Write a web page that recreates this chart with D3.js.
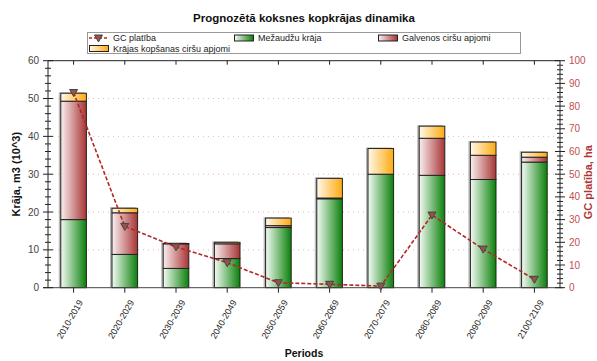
<!DOCTYPE html>
<html>
<head>
<meta charset="utf-8">
<script src="https://cdn.jsdelivr.net/npm/d3@7"></script>
<style>
  html, body { margin: 0; padding: 0; background: #fff; }
  svg { display: block; font-family: "Liberation Sans", Arial, sans-serif; }
</style>
</head>
<body>
<svg id="chart" width="597" height="361"></svg>
<script>
// Forecast of total timber harvest by decade
const periods = ["2010-2019","2020-2029","2030-2039","2040-2049","2050-2059",
                 "2060-2069","2070-2079","2080-2089","2090-2099","2100-2109"];
// Stacked volumes, thousand m3
const mezauduKraja    = [18.0, 8.8, 5.1, 7.7, 15.9, 23.5, 30.0, 29.7, 28.6, 33.2];
const galvenosCirsi   = [31.3, 11.0, 6.5, 3.9, 0.5, 0.2, 0.0, 9.8, 6.4, 1.3];
const kopsanasCirsi   = [2.1, 1.2, 0.1, 0.4, 2.0, 5.2, 6.8, 3.2, 3.5, 1.3];
// Clear-cut area, ha (right axis)
const gcPlatiba       = [86, 27, 18, 11, 2.2, 1.5, 0.7, 32, 17, 3.7];

const leftTicks  = [0, 10, 20, 30, 40, 50, 60];
const rightTicks = [0, 10, 20, 30, 40, 50, 60, 70, 80, 90, 100];

const seriesNames = ["Mežaudžu krāja", "Galvenos ciršu apjomi", "Krājas kopšanas ciršu apjomi"];
const seriesColors = [
  { light: "#f4fbf4", dark: "#0a800a" },
  { light: "#faf0f0", dark: "#a83434" },
  { light: "#fff8ea", dark: "#ffaa10" }
];

const svg = d3.select("#chart");
const plot = { left: 48, right: 560, top: 60.7, bottom: 287.7 };

const x = d3.scaleBand().domain(periods).range([plot.left, plot.right])
  .paddingInner(0.5).paddingOuter(0.25);
const y = d3.scaleLinear().domain([0, 60]).range([plot.bottom, plot.top]);
const y2 = d3.scaleLinear().domain([0, 100]).range([plot.bottom, plot.top]);

// Horizontal gradients for the bar segments
const defs = svg.append("defs");
seriesColors.forEach((c, i) => {
  const g = defs.append("linearGradient").attr("id", "grad" + i)
    .attr("x1", "0%").attr("x2", "100%").attr("y1", "0%").attr("y2", "0%");
  g.append("stop").attr("offset", "0%").attr("stop-color", c.light);
  g.append("stop").attr("offset", "100%").attr("stop-color", c.dark);
});

// Title
svg.append("text").attr("x", 304).attr("y", 22).attr("text-anchor", "middle")
  .attr("font-size", 11.5).attr("font-weight", "bold").attr("fill", "#111")
  .text("Prognozētā koksnes kopkrājas dinamika");

// Dotted grid lines
svg.append("g").selectAll("line").data(leftTicks.filter(t => t > 0 && t < 60)).join("line")
  .attr("x1", plot.left).attr("x2", plot.right)
  .attr("y1", d => y(d)).attr("y2", d => y(d))
  .attr("stroke", "#eeb4b4").attr("stroke-width", 1).attr("stroke-dasharray", "1,4");

// Stack
const table = periods.map((p, i) => ({
  period: p, s0: mezauduKraja[i], s1: galvenosCirsi[i], s2: kopsanasCirsi[i]
}));
const stack = d3.stack().keys(["s0", "s1", "s2"])(table);
const totals = table.map(d => d.s0 + d.s1 + d.s2);

// Soft shadow behind each bar
svg.append("g").selectAll("rect").data(table).join("rect")
  .attr("x", d => x(d.period) - 2)
  .attr("y", (d, i) => y(totals[i]) - 1)
  .attr("width", x.bandwidth())
  .attr("height", (d, i) => y(0) - y(totals[i]) + 1)
  .attr("fill", "#b8b8b8");

stack.forEach((layer, k) => {
  svg.append("g").selectAll("rect").data(layer).join("rect")
    .attr("x", d => x(d.data.period))
    .attr("y", d => y(d[1]))
    .attr("width", x.bandwidth())
    .attr("height", d => Math.max(0, y(d[0]) - y(d[1])))
    .attr("fill", `url(#grad${k})`)
    .attr("stroke", "#222").attr("stroke-width", 1);
});

// Frame: top and bottom lines
svg.append("line").attr("x1", plot.left).attr("x2", plot.right)
  .attr("y1", plot.top).attr("y2", plot.top).attr("stroke", "#222");
svg.append("line").attr("x1", plot.left - 5).attr("x2", plot.right + 3)
  .attr("y1", plot.bottom).attr("y2", plot.bottom).attr("stroke", "#444");

// Category ticks top (inward) and bottom (outward)
svg.append("g").selectAll("line").data(periods).join("line")
  .attr("x1", d => x(d) + x.bandwidth() / 2).attr("x2", d => x(d) + x.bandwidth() / 2)
  .attr("y1", plot.top).attr("y2", plot.top + 4).attr("stroke", "#222");

const xAxis = svg.append("g").attr("transform", `translate(0,${plot.bottom})`)
  .call(d3.axisBottom(x).tickSize(5).tickSizeOuter(0));
xAxis.select(".domain").remove();
xAxis.selectAll(".tick line").attr("stroke", "#222");
xAxis.selectAll(".tick text")
  .attr("font-size", 9).attr("fill", "#222")
  .attr("text-anchor", "end")
  .attr("transform", "translate(7,13) rotate(-60)")
  .attr("dy", "0.35em").attr("y", 0).attr("x", 0);

// Left axis with minor ticks crossing the line
const leftAxis = svg.append("g").attr("transform", `translate(${plot.left},0)`);
leftAxis.append("line").attr("y1", plot.top).attr("y2", plot.bottom).attr("stroke", "#222");
leftAxis.selectAll(".minor").data(d3.range(0, 61, 2)).join("line")
  .attr("x1", d => d % 10 === 0 ? -5 : -3).attr("x2", d => d % 10 === 0 ? 5 : 3)
  .attr("y1", d => y(d)).attr("y2", d => y(d)).attr("stroke", "#222");
leftAxis.selectAll("text").data(leftTicks).join("text")
  .attr("x", -9).attr("y", d => y(d)).attr("dy", "0.35em")
  .attr("text-anchor", "end").attr("font-size", 10).attr("fill", "#444")
  .text(d => d);

// Right axis
const rightAxis = svg.append("g").attr("transform", `translate(${plot.right},0)`);
rightAxis.append("line").attr("y1", plot.top).attr("y2", plot.bottom).attr("stroke", "#222");
rightAxis.selectAll(".minor").data(d3.range(0, 101, 2)).join("line")
  .attr("x1", d => d % 10 === 0 ? -5 : -3).attr("x2", d => d % 10 === 0 ? 5 : 3)
  .attr("y1", d => y2(d)).attr("y2", d => y2(d)).attr("stroke", "#222");
rightAxis.selectAll("text").data(rightTicks).join("text")
  .attr("x", 9).attr("y", d => y2(d)).attr("dy", "0.35em")
  .attr("text-anchor", "start").attr("font-size", 10).attr("fill", "#c05050")
  .text(d => d);

// Axis titles
svg.append("text")
  .attr("transform", `translate(20,${(plot.top + plot.bottom) / 2}) rotate(-90)`)
  .attr("text-anchor", "middle").attr("font-size", 11).attr("font-weight", "bold")
  .attr("fill", "#111").text("Krāja, m3 (10^3)");
svg.append("text")
  .attr("transform", `translate(592,${(plot.top + plot.bottom) / 2 + 8}) rotate(-90)`)
  .attr("text-anchor", "middle").attr("font-size", 11).attr("font-weight", "bold")
  .attr("fill", "#b03434").text("GC platība, ha");
svg.append("text").attr("x", 304).attr("y", 357).attr("text-anchor", "middle")
  .attr("font-size", 10.5).attr("font-weight", "bold").attr("fill", "#111")
  .text("Periods");

// GC area line with triangle markers
const cx = (d, i) => x(periods[i]) + x.bandwidth() / 2;
svg.append("path")
  .attr("d", d3.line().x(cx).y(d => y2(d))(gcPlatiba))
  .attr("fill", "none").attr("stroke", "#b02828").attr("stroke-width", 1.6)
  .attr("stroke-dasharray", "4,2");
const tri = "M-4,-3L4,-3L0,4Z";
svg.append("g").selectAll("path").data(gcPlatiba).join("path")
  .attr("transform", (d, i) => `translate(${cx(d, i)},${y2(d)})`)
  .attr("d", tri).attr("fill", "#9a5248").attr("stroke", "#444").attr("stroke-width", 1);

// Legend
const legend = svg.append("g");
legend.append("rect").attr("x", 87.5).attr("y", 32.5).attr("width", 433).attr("height", 21)
  .attr("fill", "#fff").attr("stroke", "#999");
const legendItems = [
  { name: "GC platība", type: "line", x: 89, y: 38 },
  { name: seriesNames[0], type: 0, x: 234, y: 38 },
  { name: seriesNames[1], type: 1, x: 378, y: 38 },
  { name: seriesNames[2], type: 2, x: 89, y: 48.5 }
];
legendItems.forEach(it => {
  const g = legend.append("g");
  if (it.type === "line") {
    g.append("line").attr("x1", it.x).attr("x2", it.x + 19).attr("y1", it.y).attr("y2", it.y)
      .attr("stroke", "#c02020").attr("stroke-width", 1.6).attr("stroke-dasharray", "3,2");
    g.append("path").attr("transform", `translate(${it.x + 9.5},${it.y})`)
      .attr("d", tri).attr("fill", "#9a5248").attr("stroke", "#444");
  } else {
    g.append("rect").attr("x", it.x + 0.5).attr("y", it.y - 3).attr("width", 19).attr("height", 6)
      .attr("fill", `url(#grad${it.type})`).attr("stroke", "#222");
  }
  g.append("text").attr("x", it.x + 24).attr("y", it.y).attr("dy", "0.35em")
    .attr("font-size", 9).attr("fill", "#222").text(it.name);
});
</script>
</body>
</html>
